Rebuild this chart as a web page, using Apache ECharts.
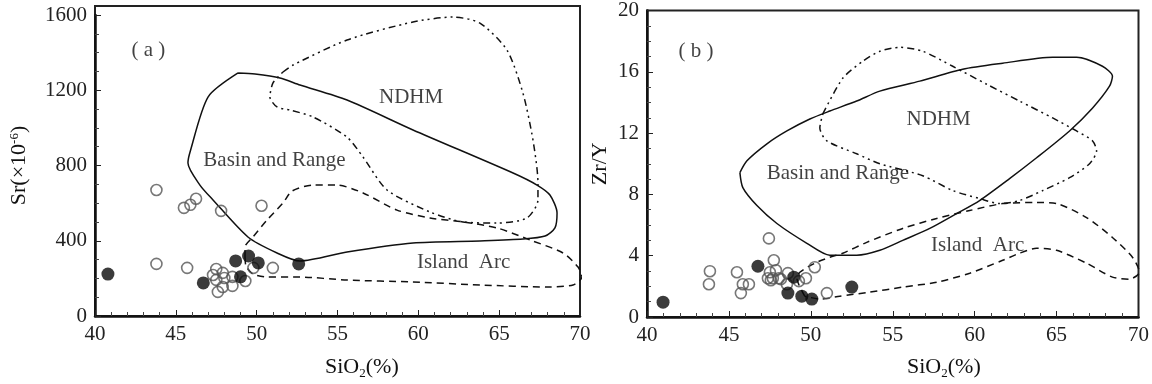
<!DOCTYPE html>
<html>
<head>
<meta charset="utf-8">
<script src="https://cdn.jsdelivr.net/npm/echarts@6/dist/echarts.min.js"></script>
<style>
html, body { margin: 0; padding: 0; background: #fff; }
#main { width: 1152px; height: 384px; }
</style>
</head>
<body>
<div id="main"></div>
<script>
// (a) Sr - SiO2
var srFilled = [[40.8,223],[46.7,176],[48.7,293],[49.0,208],[49.5,319],[50.1,282],[52.6,277]];
var srOpen = [[43.8,670],[45.5,575],[45.9,591],[46.25,623],[47.8,559],[50.3,586],[43.8,277],[45.7,256],
	[51.0,256],[49.8,256],[47.5,250],[47.3,218],[47.9,229],[47.5,192],[48.0,202],[48.5,208],
	[47.9,154],[48.5,160],[47.6,128],[49.3,186]];
var srBasin = [[48.85,1292],[46.99,1164],[45.88,872],[45.75,813],[46.49,696],[47.3,617],[49.46,420],
	[51.26,335],[52.68,292],[55.59,340],[59.67,388],[63.81,399],[66.47,409],[67.84,425],[68.45,468],
	[68.58,548],[68.14,643],[67.34,696],[65.86,760],[59.67,989],[55.59,1148],[52.68,1228],[51.44,1265],
	[49.9,1286],[48.85,1292]];
var srNdhm = [[51.63,1297],[52.25,1334],[55.59,1467],[59.67,1563],[62.14,1589],[63.81,1557],[65.48,1414],
	[66.47,1185],[67.09,936],[67.4,707],[67.4,617],[66.72,521],[64.87,494],[62.76,500],[60.72,553],
	[58.06,670],[56.58,845],[55.59,951],[53.48,1058],[52.06,1095],[51.26,1111],[50.82,1164],[51.01,1239],
	[51.63,1297]];
var srArc = [[49.28,314],[49.28,367],[49.77,420],[50.64,510],[51.63,601],[52.19,664],[53.48,696],[54.97,696],
	[56.58,654],[58.68,563],[60.72,521],[62.76,500],[64.87,468],[66.91,404],[68.95,335],[69.88,260],
	[70.12,207],[69.57,165],[67.96,154],[63.81,165],[59.67,181],[55.59,191],[52.68,207],[50.64,207],
	[49.77,223],[49.34,266],[49.28,314]];
var textA = [[43.3,1414,'( a )'],[59.55,1159,'NDHM'],[51.1,829,'Basin and Range'],[62.8,287,'Island  Arc']];

// (b) Zr/Y - SiO2
var zrFilled = [[40.98,0.97],[46.77,3.31],[48.96,2.6],[48.6,1.56],[49.45,1.36],[50.06,1.17],[52.5,1.95]];
var zrOpen = [[43.84,2.99],[43.78,2.14],[45.49,2.92],[45.85,2.14],[46.22,2.14],[45.73,1.56],[47.44,5.13],
	[47.74,3.7],[47.5,2.92],[47.87,3.05],[47.38,2.53],[47.68,2.53],[48.05,2.53],[47.56,2.4],[48.6,2.86],
	[48.54,2.14],[49.27,2.34],[49.7,2.53],[50.24,3.25],[50.98,1.56],[48.17,2.47]];
var zrBasin = [[45.67,9.42],[46.1,10.19],[47.32,11.3],[48.54,12.14],[49.94,12.92],[51.16,13.44],[52.8,14.09],
	[54.21,14.74],[56.65,15.39],[59.27,16.17],[61.71,16.56],[64.76,16.95],[66.22,16.95],[67.8,16.36],
	[68.41,15.71],[68.23,15.06],[67.2,13.64],[65.79,12.14],[63.78,10.39],[62.13,9.03],[60.3,7.6],
	[58.9,6.75],[57.26,5.78],[55.61,5.0],[54.21,4.35],[52.8,4.03],[51.16,4.03],[49.76,4.81],[47.93,6.1],
	[46.71,7.27],[45.85,8.44],[45.67,9.42]];
var zrNdhm = [[50.73,13.25],[51.95,15.58],[53.17,16.69],[54.21,17.34],[55.43,17.6],[56.83,17.34],[58.66,16.36],
	[60.73,15.19],[62.74,14.09],[64.76,12.99],[66.22,12.14],[67.2,11.49],[67.44,10.84],[67.01,10.0],
	[65.79,9.09],[64.15,8.25],[62.74,7.6],[61.52,7.4],[60.3,7.73],[58.66,8.25],[56.83,9.22],[54.21,10.0],
	[52.8,10.65],[50.98,11.49],[50.55,12.34],[50.73,13.25]];
var zrArc = [[49.63,1.36],[49.15,2.53],[49.33,2.92],[50.24,3.51],[51.16,3.9],[51.95,4.16],[53.41,4.87],
	[55.61,5.78],[57.68,6.43],[59.7,6.95],[61.71,7.4],[63.78,7.47],[65.0,7.4],[66.83,6.49],[68.41,5.19],
	[69.63,3.9],[70.06,2.92],[69.45,2.47],[68.41,2.6],[66.83,3.51],[65.0,4.35],[63.78,4.48],[62.74,4.16],
	[61.71,3.7],[59.7,2.86],[57.68,2.27],[55.61,1.95],[53.6,1.62],[51.77,1.36],[50.55,1.17],[49.63,1.36]];
var textB = [[42.99,17.34,'( b )'],[57.8,12.92,'NDHM'],[51.65,9.35,'Basin and Range'],[60.18,4.68,'Island  Arc']];

var FONT = '"Liberation Serif", "DejaVu Serif", serif';

function xAxis(gi) {
	return {
		type : 'value', gridIndex : gi, min : 40, max : 70, interval : 5,
		axisLine : { lineStyle : { color : '#111', width : 2.5 } },
		axisTick : { inside : true, length : 6, lineStyle : { color : '#222', width : 1 } },
		minorTick : { show : true, splitNumber : 5, length : 4, lineStyle : { color : '#444', width : 1 } },
		splitLine : { show : false },
		axisLabel : { fontFamily : FONT, fontSize : 21, color : '#222', margin : 8 }
	};
}
function yAxis(gi, max, interval, split, name, gap) {
	return {
		type : 'value', gridIndex : gi, min : 0, max : max, interval : interval,
		name : name, nameLocation : 'middle', nameGap : gap,
		nameTextStyle : { fontFamily : FONT, fontSize : 22, color : '#111',
			rich : { sup : { fontFamily : FONT, fontSize : 13, color : '#111', padding : [0, 0, 10, 0] } } },
		axisLine : { lineStyle : { color : '#111', width : 2.5 } },
		axisTick : { inside : true, length : 6, lineStyle : { color : '#222', width : 1 } },
		minorTick : { show : true, splitNumber : split, length : 4, lineStyle : { color : '#444', width : 1 } },
		splitLine : { show : false },
		axisLabel : { fontFamily : FONT, fontSize : 21, color : '#222', margin : 8,
			formatter : function(v) { return String(v); } }
	};
}
function hidden(gi) {
	return { type : 'value', gridIndex : gi, min : 0, max : 1, show : false, splitLine : { show : false } };
}
function curve(name, data, xi, type) {
	return {
		name : name, type : 'line', xAxisIndex : xi, yAxisIndex : xi, data : data,
		showSymbol : false, smooth : 0.25, silent : true,
		lineStyle : { color : '#111', width : 1.5, type : type }
	};
}
function dots(data, xi, filled) {
	return {
		type : 'scatter', xAxisIndex : xi, yAxisIndex : xi, data : data,
		symbol : 'circle', symbolSize : filled ? 13 : 11,
		itemStyle : filled ? { color : '#0a0a0a' } : { color : 'rgba(0,0,0,0)', borderColor : '#555', borderWidth : 1.6 },
		z : filled ? 4 : 3
	};
}
function texts(data, xi) {
	return {
		type : 'scatter', xAxisIndex : xi, yAxisIndex : xi, symbolSize : 0, silent : true,
		data : data.map(function(d) { return { value : [d[0], d[1]], name : d[2] }; }),
		label : { show : true, position : 'inside', formatter : '{b}', fontFamily : FONT,
			fontSize : 21, color : '#111' },
		z : 5
	};
}

var dashDot = [7, 4, 2, 4, 2, 4];
var myChart = echarts.init(document.getElementById('main'));
var option = {
	animation : false,
	backgroundColor : '#fff',
	title : [
		{ text : 'SiO{sub|2}(%)', left : 320, top : 350,
			textStyle : { fontFamily : FONT, fontSize : 22, fontWeight : 'normal', color : '#111',
				rich : { sub : { fontFamily : FONT, fontSize : 13, color : '#111', padding : [12, 0, 0, 0] } } } },
		{ text : 'SiO{sub|2}(%)', left : 902, top : 350,
			textStyle : { fontFamily : FONT, fontSize : 22, fontWeight : 'normal', color : '#111',
				rich : { sub : { fontFamily : FONT, fontSize : 13, color : '#111', padding : [12, 0, 0, 0] } } } }
	],
	grid : [
		{ left : 95, top : 15, width : 485, height : 301 },
		{ left : 95, top : 6, width : 485, height : 310, show : true, borderColor : '#222', borderWidth : 2 },
		{ left : 647, top : 9, width : 492, height : 308, show : true, borderColor : '#222', borderWidth : 2 }
	],
	xAxis : [ xAxis(0), hidden(1), xAxis(2) ],
	yAxis : [
		yAxis(0, 1600, 400, 4, 'Sr(×10{sup|-6})', 64),
		hidden(1),
		yAxis(2, 20, 4, 4, 'Zr/Y', 36)
	],
	series : [
		curve('Basin and Range', srBasin, 0, 'solid'),
		curve('NDHM', srNdhm, 0, dashDot),
		curve('Island Arc', srArc, 0, [7, 5]),
		dots(srOpen, 0, false),
		dots(srFilled, 0, true),
		texts(textA, 0),
		curve('Basin and Range', zrBasin, 2, 'solid'),
		curve('NDHM', zrNdhm, 2, dashDot),
		curve('Island Arc', zrArc, 2, [7, 5]),
		dots(zrOpen, 2, false),
		dots(zrFilled, 2, true),
		texts(textB, 2)
	]
};
myChart.setOption(option);
</script>
</body>
</html>
